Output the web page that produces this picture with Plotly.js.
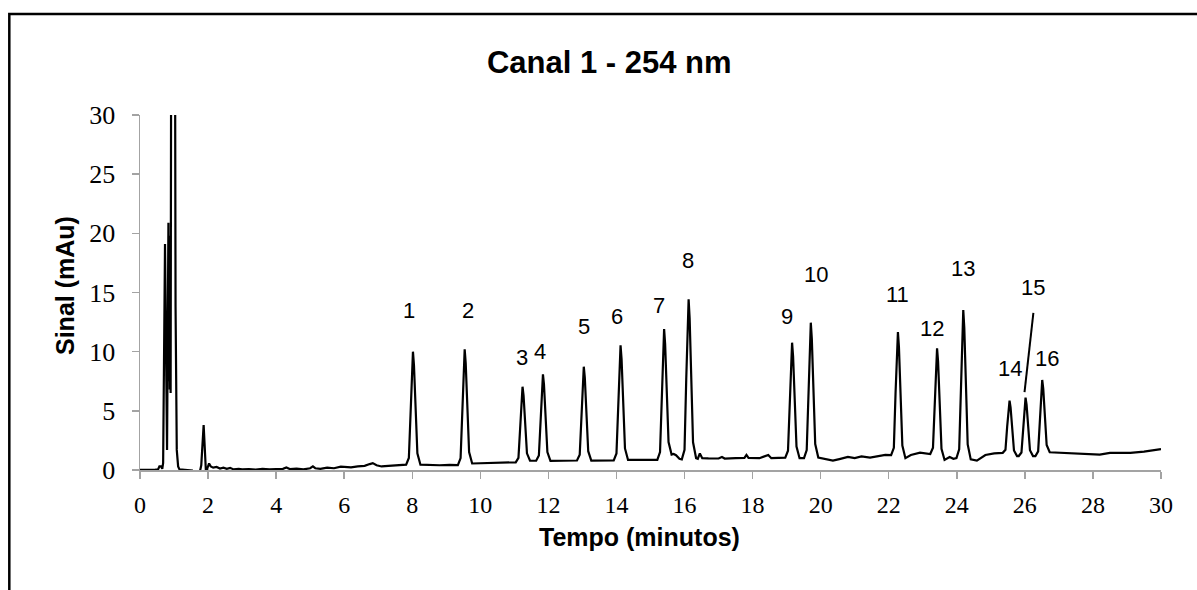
<!DOCTYPE html>
<html>
<head>
<meta charset="utf-8">
<script src="https://cdn.plot.ly/plotly-3.0.1.min.js"></script>
<style>
  html, body { margin: 0; padding: 0; background: #ffffff; }
  #grafico { width: 1197px; height: 590px; }
</style>
</head>
<body>
<div id="grafico"></div>
<script>
// Cromatograma - canal 1 (254 nm): pontos [tempo (min), sinal (mAu)]
const trechoInicial = [
  [0.00,0.02],[0.25,0.00],[0.45,0.03],[0.53,0.05],[0.57,0.30],[0.62,0.30],[0.655,0.10],[0.68,0.60],
  [0.735,19.1],[0.795,1.7],[0.835,20.9],[0.85,7.5],[0.862,19.8],[0.875,6.8],[0.888,13.0],[0.90,6.5],
  [0.92,45],[1.00,80],[1.035,45],[1.045,13.8],[1.08,1.7],[1.12,0.3],[1.16,0.05],[1.30,0.02],[1.45,0.00],
  [1.53,-0.05],[1.56,-0.5],[1.74,-0.5],[1.77,0.0],[1.80,0.4],[1.87,3.8],[1.92,0.5],[1.94,-0.3],[1.96,-0.3],
  [1.98,0.15],[2.03,0.55],[2.08,0.30],[2.15,0.20],[2.25,0.26],[2.35,0.12],[2.45,0.20],[2.55,0.10],
  [2.65,0.18],[2.75,0.05],[2.90,0.10],[3.00,0.05],[3.20,0.08],[3.40,0.03],[3.60,0.10],[3.80,0.05],
  [4.00,0.08],[4.20,0.10],[4.30,0.22],[4.40,0.08],[4.60,0.12],[4.80,0.05],[5.00,0.15],[5.08,0.30],
  [5.15,0.15],[5.30,0.10],[5.50,0.20],[5.70,0.15],[5.90,0.28],[6.00,0.25],[6.20,0.22],[6.40,0.30],
  [6.60,0.35],[6.75,0.50],[6.84,0.58],[6.95,0.40],[7.10,0.30],[7.30,0.35],[7.50,0.40],[7.70,0.45]
];
const picos1e2 = [
  [7.82,0.45],[7.90,1.02],[7.95,5.23],[7.99,9.05],[8.02,10.0],[8.05,8.85],[8.10,4.75],[8.15,1.41],[8.24,0.45],
  [8.50,0.42],[8.80,0.40],[9.10,0.43],
  [9.34,0.42],[9.42,1.01],[9.47,5.31],[9.51,9.22],[9.54,10.2],[9.57,9.04],[9.62,4.89],[9.67,1.52],[9.76,0.55],
  [10.0,0.56],[10.3,0.60],[10.6,0.62],[10.9,0.65]
];
const picos3e4 = [
  [11.04,0.65],[11.12,1.03],[11.17,3.85],[11.21,6.40],[11.24,7.04],[11.27,6.29],[11.32,3.60],[11.37,1.41],[11.46,0.78],
  [11.55,0.78],
  [11.64,0.78],[11.72,1.22],[11.77,4.44],[11.81,7.36],[11.84,8.09],[11.87,7.21],[11.92,4.07],[11.97,1.51],[12.06,0.78],
  [12.3,0.80],[12.6,0.79]
];
const picos5e6 = [
  [12.84,0.80],[12.92,1.28],[12.97,4.77],[13.01,7.94],[13.04,8.73],[13.07,7.78],[13.12,4.37],[13.17,1.59],[13.26,0.80],
  [13.5,0.81],[13.75,0.82],
  [13.92,0.82],[14.00,1.40],[14.05,5.68],[14.09,9.57],[14.12,10.54],[14.15,9.38],[14.20,5.21],[14.25,1.82],[14.34,0.85],
  [14.6,0.85],[14.9,0.86]
];
const picos7e8 = [
  [15.20,0.85],[15.28,1.51],[15.33,6.39],[15.37,10.81],[15.40,11.92],[15.43,10.65],[15.48,6.08],[15.53,2.36],[15.62,1.30],
  [15.68,1.35],[15.75,1.25],[15.85,0.95],
  [15.92,0.90],[16.00,1.71],[16.05,7.67],[16.09,13.08],[16.12,14.43],[16.15,12.82],[16.20,7.04],[16.25,2.34],[16.34,1.00],
  [16.39,0.95],[16.45,1.40],[16.52,1.00],[16.7,0.98],[17.0,0.97],[17.1,1.10],[17.18,0.97],[17.5,1.00],[17.76,1.02],
  [17.82,1.27],[17.88,1.03],[18.2,1.00],[18.46,1.27],[18.55,1.00],[18.8,1.05]
];
const picos9e10 = [
  [18.96,1.05],[19.04,1.63],[19.09,5.91],[19.13,9.79],[19.16,10.76],[19.19,9.59],[19.24,5.39],[19.29,1.98],[19.38,1.00],
  [19.45,1.00],
  [19.51,1.00],[19.59,1.69],[19.64,6.73],[19.68,11.31],[19.71,12.45],[19.74,11.08],[19.79,6.18],[19.84,2.19],[19.93,1.05],
  [20.1,0.95],[20.36,0.79],[20.55,0.92],[20.8,1.10],[21.0,1.00],[21.2,1.15],[21.45,1.05],[21.7,1.20],[21.9,1.27]
];
const picos11a13 = [
  [22.07,1.25],[22.15,1.87],[22.20,6.46],[22.24,10.62],[22.27,11.66],[22.30,10.38],[22.35,5.80],[22.40,2.07],[22.49,1.00],
  [22.65,1.27],[22.92,1.46],[23.1,1.42],
  [23.22,1.35],[23.30,1.89],[23.35,5.82],[23.39,9.40],[23.42,10.29],[23.45,9.16],[23.50,5.10],[23.55,1.79],[23.64,0.85],
  [23.79,1.10],[23.9,0.95],
  [23.99,1.00],[24.07,1.75],[24.12,7.26],[24.16,12.27],[24.19,13.52],[24.22,12.01],[24.27,6.58],[24.32,2.16],[24.41,0.90],
  [24.59,0.79],[24.84,1.27],[25.1,1.41]
];
const picos14a16 = [
  [25.35,1.45],[25.43,1.71],[25.48,3.66],[25.52,5.42],[25.55,5.86],[25.58,5.30],[25.63,3.29],[25.68,1.65],[25.77,1.18],
  [25.82,1.18],[25.90,1.48],[25.95,3.65],[25.99,5.62],[26.02,6.11],[26.05,5.52],[26.10,3.40],[26.15,1.67],[26.24,1.18],
  [26.31,1.18],[26.39,1.57],[26.44,4.40],[26.48,6.97],[26.51,7.61],[26.54,6.88],[26.59,4.25],[26.64,2.11],[26.73,1.50]
];
const trechoFinal = [
  [26.98,1.47],[27.3,1.42],[27.6,1.38],[27.9,1.35],[28.2,1.30],[28.5,1.45],[28.8,1.42],[29.1,1.45],
  [29.5,1.55],[29.8,1.68],[30.0,1.76]
];

// Identificação dos picos
const rotulos = ['1','2','3','4','5','6','7','8','9','10','11','12','13','14','15','16'];
const rotuloX = [7.89, 9.63, 11.21, 11.76, 13.04, 14.01, 15.24, 16.10, 19.00, 19.86, 22.25, 23.26, 24.18, 25.57, 26.24, 26.65];
const rotuloY = [13.5, 13.5, 9.47, 10.0, 12.09, 12.96, 13.86, 17.69, 12.96, 16.48, 14.79, 11.98, 17.05, 8.6, 15.44, 9.44];
// Traço que liga o rótulo 15 ao seu pico
const linha15 = [[25.99, 6.59], [26.25, 13.27]];

const ticksTempo = [0,2,4,6,8,10,12,14,16,18,20,22,24,26,28,30];
const ticksSinal = [0,5,10,15,20,25,30];

const pontos = [].concat(trechoInicial, picos1e2, picos3e4, picos5e6, picos7e8,
                         picos9e10, picos11a13, picos14a16, trechoFinal);
const tempo = pontos.map(p => p[0]);
const sinal = pontos.map(p => p[1]);

const corEixo = '#a3a3a3';
const fonteNum = { family: 'Liberation Serif, serif', color: '#000000' };
const fonteTitulo = { family: 'Liberation Sans, Arial, sans-serif', color: '#000000', weight: 'bold' };

const traco = {
  x: tempo, y: sinal, type: 'scatter', mode: 'lines',
  line: { color: '#000000', width: 2.2 },
  hoverinfo: 'skip'
};

const anotacoes = rotulos.map((r, i) => ({
  x: rotuloX[i], y: rotuloY[i], xref: 'x', yref: 'y', text: r, showarrow: false,
  xanchor: 'center', yanchor: 'middle',
  font: { family: 'Liberation Sans, Arial, sans-serif', size: 22, color: '#000000' }
}));

// Títulos dos eixos
anotacoes.push({
  text: 'Tempo (minutos)', xref: 'paper', yref: 'paper', x: 0.4897, y: -0.1887,
  xanchor: 'center', yanchor: 'middle', showarrow: false,
  font: Object.assign({ size: 25 }, fonteTitulo)
});
anotacoes.push({
  text: 'Sinal (mAu)', xref: 'paper', yref: 'paper', x: -0.0735, y: 0.521, textangle: -90,
  xanchor: 'center', yanchor: 'middle', showarrow: false,
  font: Object.assign({ size: 25 }, fonteTitulo)
});

const layout = {
  width: 1197, height: 590,
  margin: { l: 140, r: 36, t: 115, b: 120 },
  paper_bgcolor: '#ffffff', plot_bgcolor: '#ffffff',
  showlegend: false,
  hovermode: false,
  title: {
    text: 'Canal 1 - 254 nm',
    font: Object.assign({ size: 31 }, fonteTitulo),
    xref: 'container', yref: 'container', x: 0.509, y: 0.895, xanchor: 'center', yanchor: 'middle'
  },
  xaxis: {
    range: [0, 30], tickvals: ticksTempo, ticktext: ticksTempo.map(String),
    ticks: 'outside', ticklen: 7, tickwidth: 1.5, tickcolor: corEixo,
    showline: true, linecolor: corEixo, linewidth: 1.5,
    showgrid: false, zeroline: false,
    tickfont: Object.assign({ size: 24 }, fonteNum),
    ticklabelstandoff: 6
  },
  yaxis: {
    range: [0, 30], tickvals: ticksSinal, ticktext: ticksSinal.map(String),
    ticks: 'outside', ticklen: 7, tickwidth: 1.5, tickcolor: corEixo,
    showline: true, linecolor: corEixo, linewidth: 1.5,
    showgrid: false, zeroline: false,
    tickfont: Object.assign({ size: 26 }, fonteNum),
    ticklabelstandoff: 11
  },
  annotations: anotacoes,
  shapes: [
    { type: 'line', xref: 'x', yref: 'y',
      x0: linha15[0][0], y0: linha15[0][1], x1: linha15[1][0], y1: linha15[1][1],
      line: { color: '#000000', width: 2 } },
    // moldura da área do gráfico
    { type: 'rect', xref: 'paper', yref: 'paper', x0: -0.128, y0: -0.6, x1: 1.2, y1: 1.2845,
      line: { color: '#000000', width: 2.5 }, fillcolor: 'rgba(0,0,0,0)', layer: 'above' }
  ]
};

Plotly.newPlot('grafico', [traco], layout, { displayModeBar: false, staticPlot: true });
</script>
</body>
</html>
